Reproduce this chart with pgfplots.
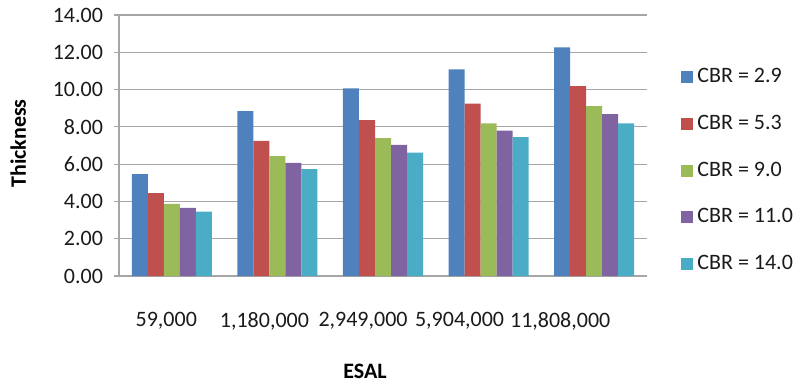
\documentclass[border=0pt]{standalone}
\usepackage{fontspec}
\setmainfont{Carlito}
\usepackage{pgfplots}
\pgfplotsset{compat=1.18}
\definecolor{c1}{HTML}{4F81BD}
\definecolor{c2}{HTML}{C0504D}
\definecolor{c3}{HTML}{9BBB59}
\definecolor{c4}{HTML}{8064A2}
\definecolor{c5}{HTML}{4BACC6}
\definecolor{gridc}{HTML}{A6A6A6}
\definecolor{txt}{HTML}{1A1A1A}
\begin{document}
\begin{tikzpicture}
\useasboundingbox (-59.5pt,-55.5pt) rectangle (342.5pt,138pt);
\begin{axis}[
  at={(0,0)}, anchor=south west,
  scale only axis, width=264pt, height=130.5pt,
  ybar=0pt, bar width=8pt,
  xmin=-0.5, xmax=4.5, ymin=0, ymax=14,
  xtick={-0.052,0.877,1.811,2.725,3.678},
  xticklabels={{59,000},{1,180,000},{2,949,000},{5,904,000},{11,808,000}},
  ytick={0,2,4,6,8,10,12,14},
  yticklabel={\pgfmathprintnumber[fixed,fixed zerofill,precision=2]{\tick}},
  /pgf/number format/assume math mode=true,
  axis lines*=left,
  axis line style={gridc, line width=0.6pt, -},
  ymajorgrids, grid style={gridc, line width=0.6pt},
  major x tick style={draw=none},
  major y tick style={gridc, line width=0.6pt},
  tick align=outside, major tick length=2.5pt,
  tick label style={font=\fontsize{11}{13}\selectfont, text=txt},
  yticklabel style={xshift=-2pt},
  xticklabel style={yshift=-12pt},
  xlabel={\textbf{ESAL}}, ylabel={\textbf{Thickness}},
  label style={font=\fontsize{11}{13}\selectfont, text=black},
  xlabel style={at={(axis description cs:0.466,0)}, anchor=center, yshift=-47.5pt},
  ylabel style={at={(axis description cs:-0.191,0.508)}, anchor=center},
  legend style={at={(1,0.5)}, anchor=west, xshift=14pt, yshift=-12.5pt,
    draw=none, fill=none, font=\fontsize{11}{13}\selectfont, text=txt,
    row sep=10.7pt, legend cell align=left},
  legend image code/.code={\fill[#1,draw=none] (0pt,-3pt) rectangle (6pt,3pt);},
]
\addplot[fill=c1, draw=none] coordinates {(0,5.46) (1,8.84) (2,10.07) (3,11.09) (4,12.27)};
\addplot[fill=c2, draw=none] coordinates {(0,4.45) (1,7.25) (2,8.36) (3,9.25) (4,10.19)};
\addplot[fill=c3, draw=none] coordinates {(0,3.87) (1,6.43) (2,7.39) (3,8.19) (4,9.11)};
\addplot[fill=c4, draw=none] coordinates {(0,3.66) (1,6.07) (2,7.03) (3,7.80) (4,8.68)};
\addplot[fill=c5, draw=none] coordinates {(0,3.46) (1,5.73) (2,6.62) (3,7.45) (4,8.19)};
\legend{CBR = 2.9, CBR = 5.3, CBR = 9.0, CBR = 11.0, CBR = 14.0}
\end{axis}
\end{tikzpicture}
\end{document}
